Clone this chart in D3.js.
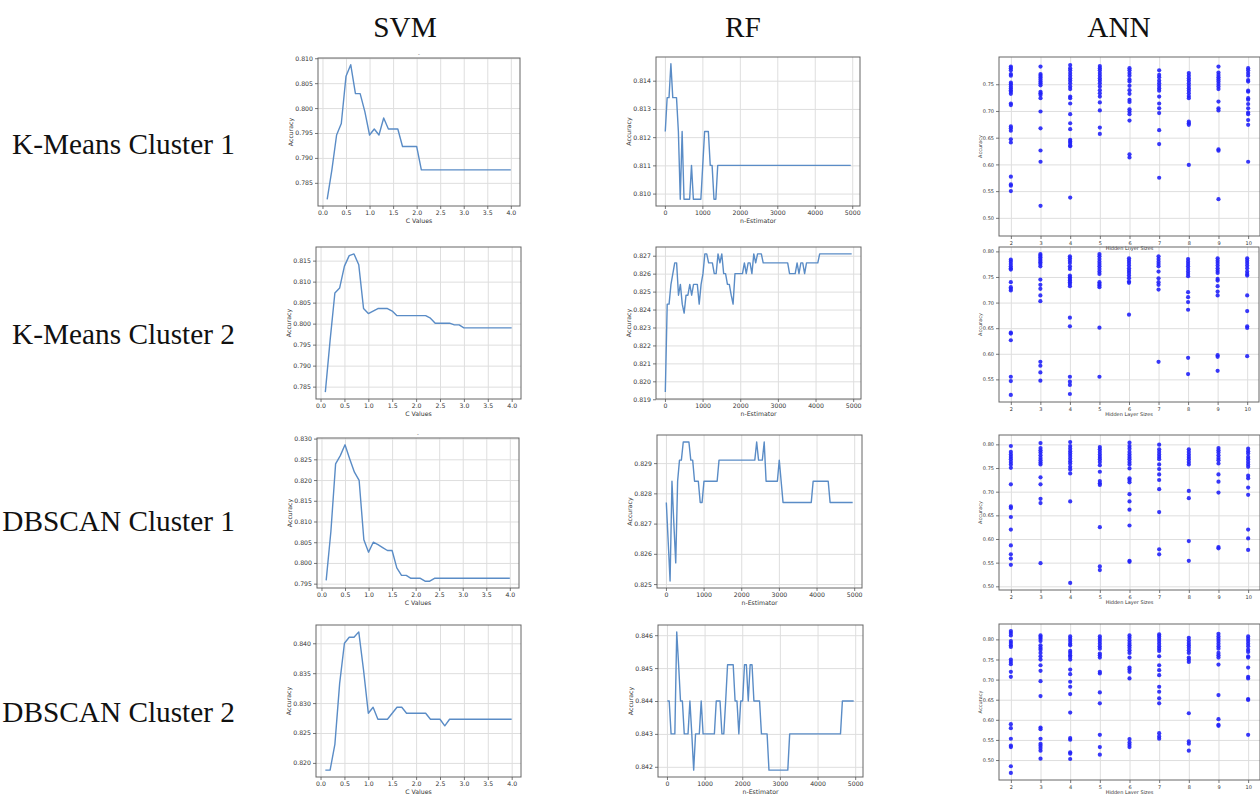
<!DOCTYPE html>
<html>
<head>
<meta charset="utf-8">
<script src="https://cdn.jsdelivr.net/npm/d3@7"></script>
<style>
body { margin: 0; background: #fff; }
svg { display: block; }
.grid line { stroke: #dedede; stroke-width: 1; }
.grid path { display: none; }
.axis path { display: none; }
.axis line { stroke: #555; stroke-width: 0.8; }
.axis text { font-family: "DejaVu Sans", sans-serif; fill: #333; }
.title { font-family: "Liberation Serif", "Times New Roman", serif; font-size: 29.3px; fill: #111; }
</style>
</head>
<body>
<div id="chart"></div>
<script>
// column / row headings
var models = ['SVM', 'RF', 'ANN'];
var clusters = ['K-Means Cluster 1', 'K-Means Cluster 2', 'DBSCAN Cluster 1', 'DBSCAN Cluster 2'];

// SVM : C values (x) and accuracy per cluster
var cValues = [0.1,0.2,0.3,0.4,0.5,0.6,0.7,0.8,0.9,1.0,1.1,1.2,1.3,1.4,1.5,1.6,1.7,1.8,1.9,2.0,
               2.1,2.2,2.3,2.4,2.5,2.6,2.7,2.8,2.9,3.0,3.1,3.2,3.3,3.4,3.5,3.6,3.7,3.8,3.9,4.0];
var svmK1 = [0.7817,0.7876,0.7946,0.7969,0.8064,0.8087,0.8029,0.8029,0.7993,0.7946,0.7958,0.7946,0.7980,0.7958,0.7958,0.7958,0.7923,0.7923,0.7923,0.7923,
             0.7876,0.7876,0.7876,0.7876,0.7876,0.7876,0.7876,0.7876,0.7876,0.7876,0.7876,0.7876,0.7876,0.7876,0.7876,0.7876,0.7876,0.7876,0.7876,0.7876];
var svmK2 = [0.7837,0.7960,0.8073,0.8085,0.8137,0.8162,0.8166,0.8140,0.8036,0.8024,0.8030,0.8036,0.8036,0.8036,0.8030,0.8019,0.8019,0.8019,0.8019,0.8019,
             0.8019,0.8019,0.8013,0.8001,0.8001,0.8001,0.8001,0.7997,0.7997,0.7990,0.7990,0.7990,0.7990,0.7990,0.7990,0.7990,0.7990,0.7990,0.7990,0.7990];
var svmD1 = [0.7958,0.8076,0.8239,0.8259,0.8285,0.8251,0.8219,0.8199,0.8056,0.8026,0.8050,0.8044,0.8037,0.8030,0.8030,0.7988,0.7970,0.7970,0.7963,0.7963,
             0.7963,0.7956,0.7956,0.7963,0.7963,0.7963,0.7963,0.7963,0.7963,0.7963,0.7963,0.7963,0.7963,0.7963,0.7963,0.7963,0.7963,0.7963,0.7963,0.7963];
var svmD2 = [0.8188,0.8188,0.8231,0.8333,0.8400,0.8410,0.8410,0.8419,0.8355,0.8283,0.8293,0.8273,0.8273,0.8273,0.8283,0.8293,0.8293,0.8283,0.8283,0.8283,
             0.8283,0.8283,0.8273,0.8273,0.8273,0.8262,0.8273,0.8273,0.8273,0.8273,0.8273,0.8273,0.8273,0.8273,0.8273,0.8273,0.8273,0.8273,0.8273,0.8273];

// RF : number of estimators (x) and accuracy per cluster
var nEstimators = [10,60,110,160,210,260,310,360,410,460,510,560,610,660,710,760,810,860,910,960,
                   1010,1060,1110,1160,1210,1260,1310,1360,1410,1460,1510,1560,1610,1660,1710,1760,1810,1860,1910,1960,
                   2010,2060,2110,2160,2210,2260,2310,2360,2410,2460,2510,2560,2610,2660,2710,2760,2810,2860,2910,2960,
                   3010,3060,3110,3160,3210,3260,3310,3360,3410,3460,3510,3560,3610,3660,3710,3760,3810,3860,3910,3960,
                   4010,4060,4110,4160,4210,4260,4310,4360,4410,4460,4510,4560,4610,4660,4710,4760,4810,4860,4910,4960];
var rfK1 = [0.8122,0.8134,0.8134,0.8146,0.8134,0.8134,0.8134,0.8122,0.8098,0.8122,0.8098,0.8098,0.8098,0.8098,0.8110,0.8098,0.8098,0.8098,0.8098,0.8098,
            0.8110,0.8122,0.8122,0.8122,0.8110,0.8110,0.8098,0.8098,0.8110,0.8110,0.8110,0.8110,0.8110,0.8110,0.8110,0.8110,0.8110,0.8110,0.8110,0.8110,
            0.8110,0.8110,0.8110,0.8110,0.8110,0.8110,0.8110,0.8110,0.8110,0.8110,0.8110,0.8110,0.8110,0.8110,0.8110,0.8110,0.8110,0.8110,0.8110,0.8110,
            0.8110,0.8110,0.8110,0.8110,0.8110,0.8110,0.8110,0.8110,0.8110,0.8110,0.8110,0.8110,0.8110,0.8110,0.8110,0.8110,0.8110,0.8110,0.8110,0.8110,
            0.8110,0.8110,0.8110,0.8110,0.8110,0.8110,0.8110,0.8110,0.8110,0.8110,0.8110,0.8110,0.8110,0.8110,0.8110,0.8110,0.8110,0.8110,0.8110,0.8110];
var rfK2 = [0.8194,0.8243,0.8243,0.8254,0.8260,0.8266,0.8266,0.8248,0.8254,0.8243,0.8238,0.8248,0.8248,0.8254,0.8248,0.8254,0.8254,0.8254,0.8243,0.8254,
            0.8260,0.8271,0.8271,0.8266,0.8266,0.8266,0.8260,0.8260,0.8271,0.8266,0.8271,0.8260,0.8260,0.8254,0.8254,0.8248,0.8243,0.8260,0.8260,0.8260,
            0.8260,0.8260,0.8266,0.8260,0.8266,0.8266,0.8260,0.8271,0.8266,0.8271,0.8271,0.8271,0.8266,0.8266,0.8266,0.8266,0.8266,0.8266,0.8266,0.8266,
            0.8266,0.8266,0.8266,0.8266,0.8266,0.8266,0.8260,0.8260,0.8260,0.8260,0.8266,0.8260,0.8266,0.8266,0.8260,0.8266,0.8266,0.8266,0.8266,0.8266,
            0.8266,0.8266,0.8271,0.8271,0.8271,0.8271,0.8271,0.8271,0.8271,0.8271,0.8271,0.8271,0.8271,0.8271,0.8271,0.8271,0.8271,0.8271,0.8271,0.8271];
var rfD1 = [0.8277,0.8264,0.8251,0.8284,0.8270,0.8257,0.8284,0.8291,0.8291,0.8297,0.8297,0.8297,0.8297,0.8291,0.8291,0.8284,0.8284,0.8284,0.8277,0.8277,
            0.8284,0.8284,0.8284,0.8284,0.8284,0.8284,0.8284,0.8284,0.8291,0.8291,0.8291,0.8291,0.8291,0.8291,0.8291,0.8291,0.8291,0.8291,0.8291,0.8291,
            0.8291,0.8291,0.8291,0.8291,0.8291,0.8291,0.8291,0.8291,0.8297,0.8291,0.8291,0.8291,0.8297,0.8284,0.8284,0.8284,0.8284,0.8284,0.8284,0.8284,
            0.8291,0.8284,0.8277,0.8277,0.8277,0.8277,0.8277,0.8277,0.8277,0.8277,0.8277,0.8277,0.8277,0.8277,0.8277,0.8277,0.8277,0.8277,0.8284,0.8284,
            0.8284,0.8284,0.8284,0.8284,0.8284,0.8284,0.8284,0.8277,0.8277,0.8277,0.8277,0.8277,0.8277,0.8277,0.8277,0.8277,0.8277,0.8277,0.8277,0.8277];
var rfD2 = [0.8440,0.8440,0.8430,0.8430,0.8430,0.8461,0.8451,0.8440,0.8440,0.8430,0.8430,0.8430,0.8440,0.8430,0.8419,0.8430,0.8430,0.8430,0.8440,0.8430,
            0.8430,0.8430,0.8430,0.8430,0.8430,0.8430,0.8440,0.8440,0.8440,0.8430,0.8430,0.8440,0.8451,0.8451,0.8451,0.8451,0.8440,0.8440,0.8430,0.8440,
            0.8440,0.8451,0.8451,0.8440,0.8451,0.8451,0.8440,0.8440,0.8440,0.8440,0.8430,0.8430,0.8430,0.8430,0.8419,0.8419,0.8419,0.8419,0.8419,0.8419,
            0.8419,0.8419,0.8419,0.8419,0.8419,0.8430,0.8430,0.8430,0.8430,0.8430,0.8430,0.8430,0.8430,0.8430,0.8430,0.8430,0.8430,0.8430,0.8430,0.8430,
            0.8430,0.8430,0.8430,0.8430,0.8430,0.8430,0.8430,0.8430,0.8430,0.8430,0.8430,0.8430,0.8430,0.8440,0.8440,0.8440,0.8440,0.8440,0.8440,0.8440];

// ANN : hidden layer sizes (x), one list of run accuracies per size
var hiddenSizes = [2,3,4,5,6,7,8,9,10];
var annK1 = [
  [0.783,0.780,0.776,0.769,0.766,0.753,0.750,0.746,0.7425,0.739,0.736,0.732,0.714,0.711,0.671,0.6675,0.663,0.647,0.641,0.577,0.5625,0.560,0.550],
  [0.783,0.769,0.766,0.7625,0.759,0.755,0.752,0.748,0.736,0.733,0.730,0.724,0.699,0.6675,0.626,0.605,0.5225],
  [0.786,0.780,0.776,0.771,0.766,0.761,0.757,0.752,0.746,0.741,0.727,0.724,0.714,0.694,0.677,0.666,0.646,0.643,0.640,0.636,0.634,0.538],
  [0.784,0.780,0.776,0.771,0.766,0.761,0.757,0.752,0.746,0.739,0.733,0.727,0.716,0.701,0.669,0.657],
  [0.780,0.776,0.771,0.766,0.759,0.755,0.747,0.739,0.732,0.721,0.717,0.703,0.699,0.694,0.682,0.619,0.613],
  [0.776,0.7675,0.763,0.757,0.752,0.747,0.7425,0.738,0.727,0.714,0.705,0.696,0.664,0.638,0.575],
  [0.771,0.766,0.761,0.757,0.752,0.747,0.7425,0.738,0.733,0.728,0.724,0.680,0.677,0.674,0.599],
  [0.783,0.772,0.7675,0.763,0.759,0.755,0.7506,0.746,0.741,0.7175,0.705,0.701,0.628,0.6255,0.535],
  [0.780,0.776,0.771,0.766,0.758,0.755,0.738,0.736,0.724,0.721,0.713,0.705,0.697,0.694,0.683,0.674,0.605]
];
var annK2 = [
  [0.7838,0.7799,0.7754,0.7709,0.767,0.7644,0.7398,0.730,0.7268,0.7236,0.6413,0.6394,0.6264,0.5552,0.5468,0.5196],
  [0.7948,0.7916,0.7883,0.7851,0.7819,0.7786,0.7754,0.7709,0.745,0.7346,0.7268,0.7139,0.7028,0.5843,0.5766,0.5636,0.5474],
  [0.7903,0.7864,0.7819,0.7773,0.7709,0.7657,0.7527,0.7495,0.7462,0.743,0.7398,0.7365,0.732,0.6705,0.6536,0.5552,0.5455,0.5391,0.5215],
  [0.7948,0.7903,0.7851,0.7799,0.7754,0.7709,0.7657,0.7605,0.756,0.7398,0.7365,0.7333,0.730,0.651,0.5552],
  [0.7864,0.7819,0.7773,0.7722,0.767,0.7624,0.7579,0.7527,0.7475,0.7411,0.7385,0.6763],
  [0.7903,0.7851,0.7799,0.7754,0.7709,0.7605,0.7475,0.7398,0.7346,0.7255,0.5843],
  [0.7851,0.7799,0.7754,0.7709,0.7657,0.7605,0.756,0.7514,0.7204,0.7106,0.7009,0.686,0.5921,0.5604],
  [0.7864,0.7819,0.7773,0.7722,0.767,0.7624,0.7579,0.7462,0.743,0.732,0.7216,0.7139,0.5973,0.5940,0.5668],
  [0.7864,0.7819,0.7773,0.7722,0.767,0.7605,0.756,0.7527,0.7139,0.6834,0.6536,0.6504,0.5953]
];
var annD1 = [
  [0.7965,0.784,0.7784,0.7735,0.7686,0.7629,0.7575,0.7505,0.7156,0.6689,0.6653,0.6465,0.6199,0.5865,0.5676,0.5586,0.5454],
  [0.8028,0.7923,0.7874,0.7826,0.777,0.7714,0.7665,0.7616,0.7575,0.7303,0.7156,0.6849,0.6759,0.549],
  [0.8049,0.7965,0.7909,0.7854,0.7805,0.7756,0.770,0.7644,0.7596,0.7526,0.747,0.7386,0.6794,0.5071],
  [0.7944,0.7895,0.784,0.7784,0.7735,0.7686,0.7629,0.7561,0.7421,0.7226,0.7177,0.7142,0.625,0.542,0.5343],
  [0.8035,0.7965,0.7909,0.784,0.7784,0.7735,0.7686,0.7629,0.7575,0.7491,0.7282,0.7247,0.7198,0.6947,0.6794,0.6619,0.6285,0.5538,0.5517],
  [0.7993,0.7895,0.784,0.7784,0.7735,0.7686,0.7575,0.7477,0.7365,0.7247,0.7052,0.657,0.5782,0.5676],
  [0.7895,0.784,0.7784,0.7735,0.7686,0.7629,0.7575,0.7017,0.6863,0.5957,0.5538],
  [0.7923,0.7874,0.7826,0.777,0.7714,0.7665,0.7596,0.7365,0.7212,0.6982,0.5831,0.5803],
  [0.7909,0.7854,0.7805,0.7735,0.7686,0.7629,0.7575,0.7526,0.7338,0.7282,0.7086,0.6933,0.6199,0.6013,0.5768]
];
var annD2 = [
  [0.8206,0.8157,0.8099,0.7959,0.7909,0.7852,0.7811,0.7498,0.744,0.7382,0.7193,0.7069,0.5891,0.5792,0.5529,0.5356,0.5323,0.4845,0.4680],
  [0.8099,0.8058,0.8016,0.7959,0.7852,0.7794,0.7745,0.7662,0.758,0.7498,0.7357,0.7217,0.6962,0.6591,0.5809,0.5768,0.5529,0.5405,0.5356,0.5298,0.5232,0.5035],
  [0.8074,0.8016,0.7959,0.7893,0.7852,0.7712,0.7662,0.7605,0.7563,0.7498,0.725,0.7135,0.6946,0.6822,0.6641,0.618,0.5545,0.5504,0.5191,0.5158,0.5026],
  [0.8074,0.8016,0.7959,0.7893,0.7827,0.7769,0.7646,0.7605,0.7547,0.7193,0.7152,0.6682,0.641,0.5628,0.5323,0.5134],
  [0.8099,0.8041,0.7975,0.7909,0.7852,0.7794,0.7728,0.7662,0.7547,0.730,0.725,0.7193,0.7028,0.5521,0.5438,0.538,0.5323],
  [0.8124,0.8074,0.8016,0.7959,0.7893,0.7827,0.7769,0.7712,0.758,0.7357,0.7234,0.711,0.6822,0.6698,0.6534,0.641,0.5669,0.5587,0.5529],
  [0.8041,0.7975,0.7909,0.7852,0.7794,0.7728,0.7662,0.7547,0.7498,0.744,0.6163,0.5463,0.5405,0.5232],
  [0.814,0.8074,0.8016,0.7959,0.7893,0.7827,0.7769,0.7662,0.7605,0.7547,0.7374,0.6616,0.6015,0.5875,0.585],
  [0.8074,0.8016,0.7959,0.7893,0.7827,0.7745,0.7687,0.758,0.7547,0.730,0.7069,0.7028,0.6517,0.6493,0.5628]
];

// tick labels
var cTicks = [0, 0.5, 1.0, 1.5, 2.0, 2.5, 3.0, 3.5, 4.0];
var nTicks = [0, 1000, 2000, 3000, 4000, 5000];
var svmK1Ticks = [0.785, 0.790, 0.795, 0.800, 0.805, 0.810];
var svmK2Ticks = [0.785, 0.790, 0.795, 0.800, 0.805, 0.810, 0.815];
var svmD1Ticks = [0.795, 0.800, 0.805, 0.810, 0.815, 0.820, 0.825, 0.830];
var svmD2Ticks = [0.820, 0.825, 0.830, 0.835, 0.840];
var rfK1Ticks = [0.810, 0.811, 0.812, 0.813, 0.814];
var rfK2Ticks = [0.819, 0.820, 0.821, 0.822, 0.823, 0.824, 0.825, 0.826, 0.827];
var rfD1Ticks = [0.825, 0.826, 0.827, 0.828, 0.829];
var rfD2Ticks = [0.842, 0.843, 0.844, 0.845, 0.846];
var annK1Ticks = [0.50, 0.55, 0.60, 0.65, 0.70, 0.75];
var annK2Ticks = [0.55, 0.60, 0.65, 0.70, 0.75, 0.80];
var annD1Ticks = [0.50, 0.55, 0.60, 0.65, 0.70, 0.75, 0.80];
var annD2Ticks = [0.50, 0.55, 0.60, 0.65, 0.70, 0.75, 0.80];

var width = 1260, height = 794;
var svg = d3.select('#chart').append('svg')
    .attr('width', width)
    .attr('height', height);

// headings
var colX = [405, 743, 1119];
svg.selectAll('.col-title').data(models).enter().append('text')
    .attr('class', 'title')
    .attr('x', function(d, i){ return colX[i]; })
    .attr('y', 37)
    .attr('text-anchor', 'middle')
    .text(function(d){ return d; });
var rowY = [154, 344, 531, 722];
svg.selectAll('.row-title').data(clusters).enter().append('text')
    .attr('class', 'title')
    .attr('x', 235)
    .attr('y', function(d, i){ return rowY[i]; })
    .attr('text-anchor', 'end')
    .text(function(d){ return d; });

// panel frames: [left, top, width, height]; yLim only where the saved figure used a wider range
var panels = [
  {box:[318, 58, 202, 148], kind:'line', xs:cValues, ys:svmK1, xTicks:cTicks, yTicks:svmK1Ticks, xFmt:'.1f', yFmt:'.3f', xLabel:'C Values', dash:true},
  {box:[656, 57, 204, 149], kind:'line', xs:nEstimators, ys:rfK1, xTicks:nTicks, yTicks:rfK1Ticks, xFmt:'d', yFmt:'.3f', xLabel:'n-Estimator'},
  {box:[999, 57, 261, 179], kind:'dots', xs:hiddenSizes, ys:annK1, xTicks:hiddenSizes, yTicks:annK1Ticks, xFmt:'d', yFmt:'.2f', xLabel:'Hidden Layer Sizes', yLim:[0.466, 0.801]},
  {box:[316, 247, 205, 152], kind:'line', xs:cValues, ys:svmK2, xTicks:cTicks, yTicks:svmK2Ticks, xFmt:'.1f', yFmt:'.3f', xLabel:'C Values'},
  {box:[656, 247, 205, 152], kind:'line', xs:nEstimators, ys:rfK2, xTicks:nTicks, yTicks:rfK2Ticks, xFmt:'d', yFmt:'.3f', xLabel:'n-Estimator'},
  {box:[999, 247, 260, 155], kind:'dots', xs:hiddenSizes, ys:annK2, xTicks:hiddenSizes, yTicks:annK2Ticks, xFmt:'d', yFmt:'.2f', xLabel:'Hidden Layer Sizes'},
  {box:[317, 438, 202, 150], kind:'line', xs:cValues, ys:svmD1, xTicks:cTicks, yTicks:svmD1Ticks, xFmt:'.1f', yFmt:'.3f', xLabel:'C Values', dash:true},
  {box:[657, 435, 205, 153], kind:'line', xs:nEstimators, ys:rfD1, xTicks:nTicks, yTicks:rfD1Ticks, xFmt:'d', yFmt:'.3f', xLabel:'n-Estimator'},
  {box:[999, 435, 261, 155], kind:'dots', xs:hiddenSizes, ys:annD1, xTicks:hiddenSizes, yTicks:annD1Ticks, xFmt:'d', yFmt:'.2f', xLabel:'Hidden Layer Sizes'},
  {box:[316, 625, 205, 152], kind:'line', xs:cValues, ys:svmD2, xTicks:cTicks, yTicks:svmD2Ticks, xFmt:'.1f', yFmt:'.3f', xLabel:'C Values'},
  {box:[658, 625, 205, 152], kind:'line', xs:nEstimators, ys:rfD2, xTicks:nTicks, yTicks:rfD2Ticks, xFmt:'d', yFmt:'.3f', xLabel:'n-Estimator'},
  {box:[999, 624, 261, 156], kind:'dots', xs:hiddenSizes, ys:annD2, xTicks:hiddenSizes, yTicks:annD2Ticks, xFmt:'d', yFmt:'.2f', xLabel:'Hidden Layer Sizes'}
];

// matplotlib style 5% margins around the data
function padded(ext){
    var pad = (ext[1] - ext[0]) * 0.05;
    return [ext[0] - pad, ext[1] + pad];
}

function drawPanel(p){
    var w = p.box[2], h = p.box[3];
    var small = p.kind == 'dots';
    var fs = small ? 5 : 6.2;
    var g = svg.append('g')
        .attr('transform', 'translate(' + p.box[0] + ',' + p.box[1] + ')');

    var allY = small ? d3.merge(p.ys) : p.ys;
    var x = d3.scaleLinear().domain(padded(d3.extent(p.xs))).range([0, w]);
    var y = d3.scaleLinear().domain(p.yLim || padded(d3.extent(allY))).range([h, 0]);

    // grid
    g.append('g').attr('class', 'grid')
        .attr('transform', 'translate(0,' + h + ')')
        .call(d3.axisBottom(x).tickValues(p.xTicks).tickSize(-h).tickFormat(''));
    g.append('g').attr('class', 'grid')
        .call(d3.axisLeft(y).tickValues(p.yTicks).tickSize(-w).tickFormat(''));

    if(small){
        p.ys.forEach(function(vals, i){
            g.append('g').selectAll('circle')
                .data(vals)
                .enter().append('circle')
                .attr('cx', x(p.xs[i]))
                .attr('cy', function(d){ return y(d); })
                .attr('r', 2.1)
                .attr('fill', '#2222f8')
                .attr('fill-opacity', 0.9);
        });
    } else {
        var line = d3.line()
            .x(function(d, i){ return x(p.xs[i]); })
            .y(function(d){ return y(d); });
        g.append('path')
            .datum(p.ys)
            .attr('d', line)
            .attr('fill', 'none')
            .attr('stroke', '#5a8cc6')
            .attr('stroke-width', 1.4)
            .attr('stroke-linejoin', 'round');
    }

    // frame
    g.append('rect')
        .attr('width', w)
        .attr('height', h)
        .attr('fill', 'none')
        .attr('stroke', '#666')
        .attr('stroke-width', 1);

    // the little "-" title some subplots carry
    if(p.dash){
        g.append('text')
            .attr('x', w / 2)
            .attr('y', -2)
            .attr('text-anchor', 'middle')
            .style('font-family', '"DejaVu Sans", sans-serif')
            .style('font-size', '5px')
            .style('fill', '#444')
            .text('-');
    }

    var xa = g.append('g').attr('class', 'axis')
        .attr('transform', 'translate(0,' + h + ')')
        .call(d3.axisBottom(x).tickValues(p.xTicks).tickSize(3).tickPadding(2).tickFormat(d3.format(p.xFmt)));
    xa.selectAll('text').style('font-size', fs + 'px');
    var ya = g.append('g').attr('class', 'axis')
        .call(d3.axisLeft(y).tickValues(p.yTicks).tickSize(3).tickPadding(2).tickFormat(d3.format(p.yFmt)));
    ya.selectAll('text').style('font-size', fs + 'px');

    g.append('text')
        .attr('x', w / 2)
        .attr('y', h + (small ? 14 : 17))
        .attr('text-anchor', 'middle')
        .style('font-family', '"DejaVu Sans", sans-serif')
        .style('font-size', fs + 'px')
        .style('fill', '#333')
        .text(p.xLabel);
    g.append('text')
        .attr('transform', 'translate(' + (small ? -17 : -25) + ',' + (h / 2) + ') rotate(-90)')
        .attr('text-anchor', 'middle')
        .style('font-family', '"DejaVu Sans", sans-serif')
        .style('font-size', fs + 'px')
        .style('fill', '#333')
        .text('Accuracy');
}

panels.forEach(drawPanel);
</script>
</body>
</html>
